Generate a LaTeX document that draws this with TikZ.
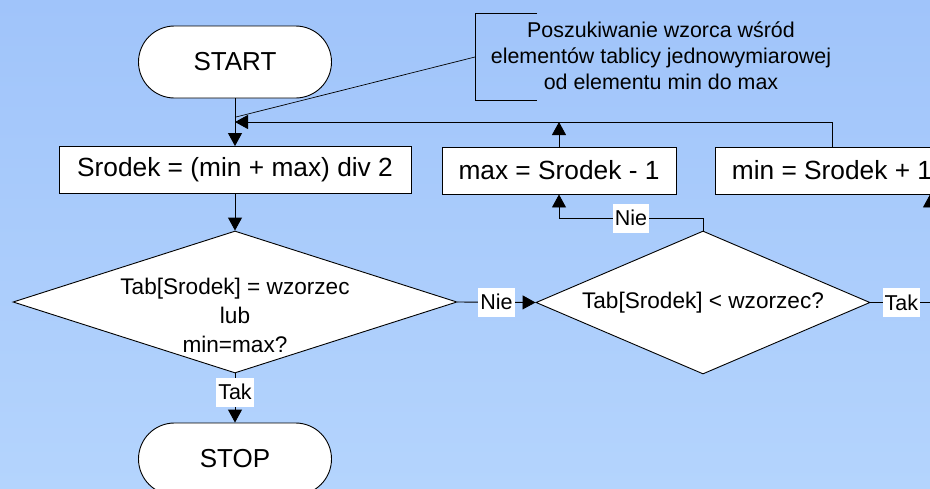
\documentclass[tikz,border=0pt]{standalone}
\usepackage{fontspec}
\setmainfont{Liberation Sans}
\usetikzlibrary{shapes.geometric,arrows.meta}
\definecolor{bgtop}{HTML}{A0C4FA}
\definecolor{bgbot}{HTML}{B4D4FD}
\tikzset{
  base/.style={draw=black, fill=white, line width=0.9pt, inner sep=0pt},
  term/.style={base, rectangle, rounded corners=36pt, minimum width=193pt, minimum height=72pt, font=\fontsize{26}{30}\selectfont},
  proc/.style={base, rectangle, minimum height=47pt, font=\fontsize{26.3}{30}\selectfont},
  dec/.style={base, diamond},
  dtext/.style={align=center, font=\fontsize{22.6}{29}\selectfont},
  lbl/.style={fill=white, inner sep=2pt, minimum height=29pt, font=\fontsize{21.5}{24}\selectfont},
  conn/.style={draw=black, line width=0.9pt},
  arr/.style={conn, -{Triangle[width=14pt,length=13pt]}}
}
\begin{document}
\begin{tikzpicture}[x=1pt,y=-1pt]
\useasboundingbox (0,0) rectangle (930,488);
\clip (0,0) rectangle (930,488);
\shade[top color=bgtop, bottom color=bgbot] (0,0) rectangle (930,488);

% nodes
\node[term] (start) at (235,62) {START};
\node[term] (stop) at (235,459) {STOP};
\node[proc, minimum width=352pt] (srodek) at (235,170) {Srodek = (min + max) div 2};
\node[proc, minimum width=234pt] (maxb) at (559,170.5) {max = Srodek - 1};
\node[proc, minimum width=234pt] (minb) at (832,170.5) {min = Srodek + 1};
\node[dec, minimum width=444pt, minimum height=142pt] (d1) at (235,302) {};
\node[dtext] (d1t) at (235,315) {Tab[Srodek] = wzorzec\\lub\\min=max?};
\node[dec, minimum width=334pt, minimum height=143pt] (d2) at (703,302.5) {};
\node[dtext] (d2t) at (703,302.5) {Tab[Srodek] < wzorzec?};

% callout
\node[align=center, font=\fontsize{21.4}{26}\selectfont] (note) at (661,56)
  {Poszukiwanie wzorca wśród\\elementów tablicy jednowymiarowej\\od elementu min do max};
\coordinate (bt) at (537,13);
\coordinate (bb) at (537,100);
\coordinate (bm) at (475,57);
\coordinate (j) at (235,122);
\coordinate (jn) at (236,117);
\draw[conn] (bt) -- (bt -| bm) -- (bb -| bm) -- (bb);
\draw[conn, line width=0.7pt] (bm) -- (jn);

% connectors
\draw[arr] (start) -- (srodek);
\draw[arr] (minb.north) |- (j);
\coordinate (mt) at (559,122);
\draw[arr] (maxb.north) -- (mt);
\draw[arr] (srodek) -- (d1);
\draw[arr] (d1.east) -- node[lbl] (nie1) {Nie} (d2.west);
\draw[arr] (d1.south) -- node[lbl, pos=0.38] (tak1) {Tak} (stop.north);
\coordinate (nb) at (703,218);
\draw[arr] (d2.north) -- (nb) -| node[lbl, pos=0.25] (nie2) {Nie} (maxb.south);
\coordinate (rt) at (930,302.5);
\draw[arr] (d2.east) -- node[lbl, pos=0.52] (tak2) {Tak} (rt) -- (minb.south -| rt);
\end{tikzpicture}
\end{document}
